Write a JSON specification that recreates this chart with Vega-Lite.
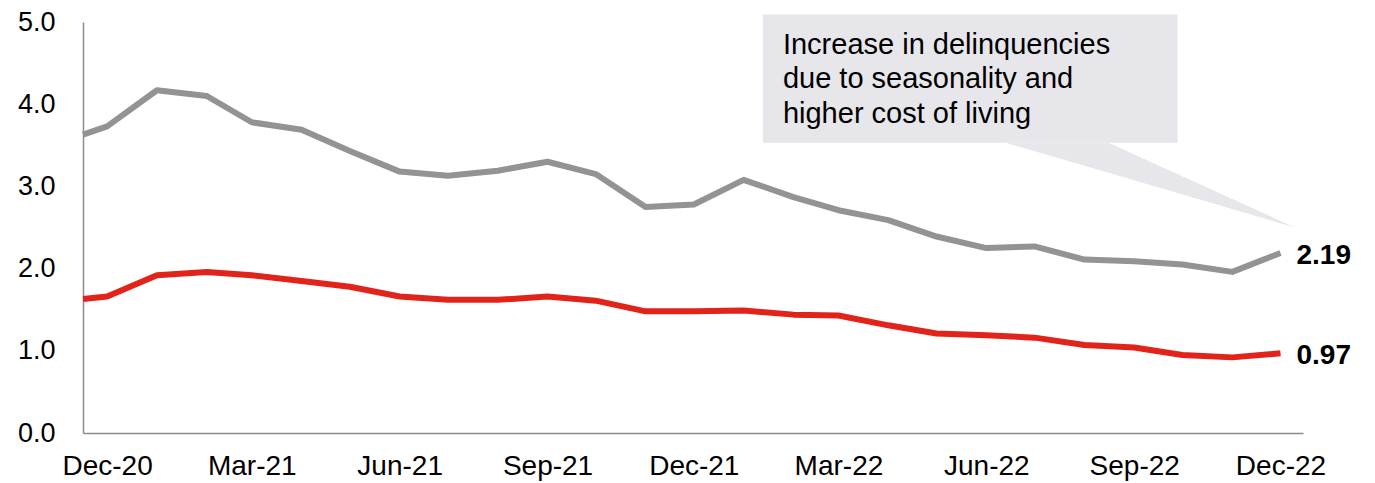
{
  "$schema": "https://vega.github.io/schema/vega-lite/v6.json",
  "width": 1220,
  "height": 411,
  "autosize": {"type": "none"},
  "padding": {"left": 83, "top": 22, "right": 72, "bottom": 50},
  "background": "white",
  "config": {"view": {"stroke": null}, "font": "Liberation Sans"},
  "datasets": {
    "series": [
      {"date": "2020-11-16", "series": "30+ days", "value": 3.63},
      {"date": "2020-12-01", "series": "30+ days", "value": 3.73},
      {"date": "2021-01-01", "series": "30+ days", "value": 4.17},
      {"date": "2021-02-01", "series": "30+ days", "value": 4.10},
      {"date": "2021-03-01", "series": "30+ days", "value": 3.78},
      {"date": "2021-04-01", "series": "30+ days", "value": 3.69},
      {"date": "2021-05-01", "series": "30+ days", "value": 3.43},
      {"date": "2021-06-01", "series": "30+ days", "value": 3.18},
      {"date": "2021-07-01", "series": "30+ days", "value": 3.13},
      {"date": "2021-08-01", "series": "30+ days", "value": 3.19},
      {"date": "2021-09-01", "series": "30+ days", "value": 3.30},
      {"date": "2021-10-01", "series": "30+ days", "value": 3.15},
      {"date": "2021-11-01", "series": "30+ days", "value": 2.75},
      {"date": "2021-12-01", "series": "30+ days", "value": 2.78},
      {"date": "2022-01-01", "series": "30+ days", "value": 3.08},
      {"date": "2022-02-01", "series": "30+ days", "value": 2.87},
      {"date": "2022-03-01", "series": "30+ days", "value": 2.71},
      {"date": "2022-04-01", "series": "30+ days", "value": 2.59},
      {"date": "2022-05-01", "series": "30+ days", "value": 2.39},
      {"date": "2022-06-01", "series": "30+ days", "value": 2.25},
      {"date": "2022-07-01", "series": "30+ days", "value": 2.27},
      {"date": "2022-08-01", "series": "30+ days", "value": 2.11},
      {"date": "2022-09-01", "series": "30+ days", "value": 2.09},
      {"date": "2022-10-01", "series": "30+ days", "value": 2.05},
      {"date": "2022-11-01", "series": "30+ days", "value": 1.96},
      {"date": "2022-12-01", "series": "30+ days", "value": 2.19},
      {"date": "2020-11-16", "series": "90+ days", "value": 1.63},
      {"date": "2020-12-01", "series": "90+ days", "value": 1.66},
      {"date": "2021-01-01", "series": "90+ days", "value": 1.92},
      {"date": "2021-02-01", "series": "90+ days", "value": 1.96},
      {"date": "2021-03-01", "series": "90+ days", "value": 1.92},
      {"date": "2021-04-01", "series": "90+ days", "value": 1.85},
      {"date": "2021-05-01", "series": "90+ days", "value": 1.78},
      {"date": "2021-06-01", "series": "90+ days", "value": 1.66},
      {"date": "2021-07-01", "series": "90+ days", "value": 1.62},
      {"date": "2021-08-01", "series": "90+ days", "value": 1.62},
      {"date": "2021-09-01", "series": "90+ days", "value": 1.66},
      {"date": "2021-10-01", "series": "90+ days", "value": 1.61},
      {"date": "2021-11-01", "series": "90+ days", "value": 1.48},
      {"date": "2021-12-01", "series": "90+ days", "value": 1.48},
      {"date": "2022-01-01", "series": "90+ days", "value": 1.49},
      {"date": "2022-02-01", "series": "90+ days", "value": 1.44},
      {"date": "2022-03-01", "series": "90+ days", "value": 1.43},
      {"date": "2022-04-01", "series": "90+ days", "value": 1.31},
      {"date": "2022-05-01", "series": "90+ days", "value": 1.21},
      {"date": "2022-06-01", "series": "90+ days", "value": 1.19},
      {"date": "2022-07-01", "series": "90+ days", "value": 1.16},
      {"date": "2022-08-01", "series": "90+ days", "value": 1.07},
      {"date": "2022-09-01", "series": "90+ days", "value": 1.04},
      {"date": "2022-10-01", "series": "90+ days", "value": 0.95},
      {"date": "2022-11-01", "series": "90+ days", "value": 0.92},
      {"date": "2022-12-01", "series": "90+ days", "value": 0.97}
    ],
    "note": [
      {"start": "2022-01-13", "end": "2022-09-28", "top": 5.09, "bottom": 3.53,
       "text": "Increase in delinquencies\ndue to seasonality and\nhigher cost of living"}
    ],
    "tail": [
      {"date": "2022-06-13", "upper": 3.53, "lower": 3.53},
      {"date": "2022-08-16", "upper": 3.53, "lower": 3.166},
      {"date": "2022-12-10", "upper": 2.50, "lower": 2.50}
    ]
  },
  "encoding": {
    "x": {
      "type": "temporal", "title": null,
      "scale": {"type": "utc", "domain": [
        {"year": 2020, "month": 11, "date": 16, "utc": true},
        {"year": 2022, "month": 12, "date": 15, "utc": true}
      ]},
      "axis": {
        "values": [
          {"year": 2020, "month": 12, "date": 1, "utc": true},
          {"year": 2021, "month": 3, "date": 1, "utc": true},
          {"year": 2021, "month": 6, "date": 1, "utc": true},
          {"year": 2021, "month": 9, "date": 1, "utc": true},
          {"year": 2021, "month": 12, "date": 1, "utc": true},
          {"year": 2022, "month": 3, "date": 1, "utc": true},
          {"year": 2022, "month": 6, "date": 1, "utc": true},
          {"year": 2022, "month": 9, "date": 1, "utc": true},
          {"year": 2022, "month": 12, "date": 1, "utc": true}
        ],
        "format": "%b-%y",
        "grid": false, "ticks": false,
        "domainColor": "#8c8c8c", "domainWidth": 1.5,
        "labelFontSize": 28, "labelColor": "#000000", "labelPadding": 19,
        "labelFlush": false, "labelOverlap": false
      }
    },
    "y": {
      "type": "quantitative", "title": null,
      "scale": {"domain": [0, 5], "nice": false, "zero": true},
      "axis": {
        "values": [0, 1, 2, 3, 4, 5], "format": ".1f",
        "grid": false, "ticks": false,
        "domainColor": "#8c8c8c", "domainWidth": 1.5,
        "labelFontSize": 27, "labelColor": "#000000", "labelPadding": 28
      }
    }
  },
  "layer": [
    {
      "data": {"name": "note"},
      "mark": {"type": "rect", "color": "#e7e6ea"},
      "encoding": {
        "x": {"field": "start", "type": "temporal"},
        "x2": {"field": "end"},
        "y": {"field": "top", "type": "quantitative"},
        "y2": {"field": "bottom"}
      }
    },
    {
      "data": {"name": "tail"},
      "mark": {"type": "area", "color": "#e7e6ea", "opacity": 1},
      "encoding": {
        "x": {"field": "date", "type": "temporal"},
        "y": {"field": "upper", "type": "quantitative"},
        "y2": {"field": "lower"}
      }
    },
    {
      "data": {"name": "note"},
      "mark": {"type": "text", "align": "left", "baseline": "top", "dx": 20, "dy": 16,
               "fontSize": 29, "lineHeight": 34.5, "lineBreak": "\n", "color": "#000000"},
      "encoding": {
        "x": {"field": "start", "type": "temporal"},
        "y": {"field": "top", "type": "quantitative"},
        "text": {"field": "text"}
      }
    },
    {
      "data": {"name": "series"},
      "mark": {"type": "line", "strokeWidth": 6, "strokeJoin": "round"},
      "encoding": {
        "x": {"field": "date", "type": "temporal"},
        "y": {"field": "value", "type": "quantitative"},
        "color": {
          "field": "series", "type": "nominal",
          "scale": {"domain": ["30+ days", "90+ days"], "range": ["#939393", "#e2231a"]},
          "legend": null
        }
      }
    },
    {
      "data": {"name": "series"},
      "transform": [{"filter": {"field": "date", "equal": {"year": 2022, "month": 12, "date": 1, "utc": true}}}],
      "mark": {"type": "text", "align": "left", "baseline": "middle", "dx": 16, "dy": 3,
               "fontSize": 28, "fontWeight": "bold", "color": "#000000"},
      "encoding": {
        "x": {"field": "date", "type": "temporal"},
        "y": {"field": "value", "type": "quantitative"},
        "text": {"field": "value", "type": "quantitative", "format": ".2f"}
      }
    }
  ]
}
